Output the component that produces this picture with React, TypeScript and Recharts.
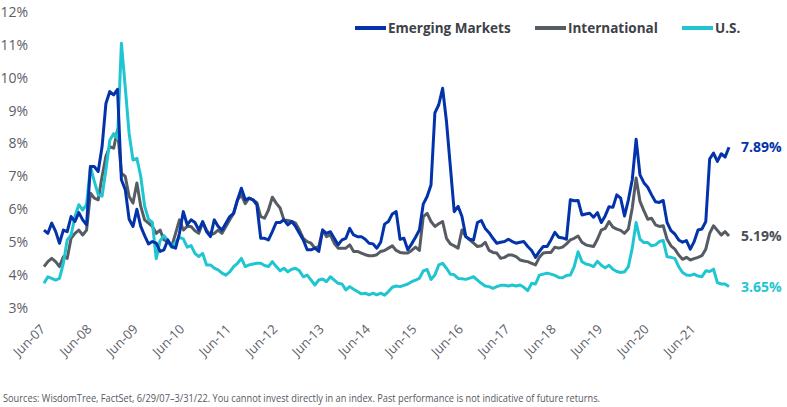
import React from 'react';
import { LineChart, Line, XAxis, YAxis } from 'recharts';

// Monthly dividend yields (%), Jun-2007 through Mar-2022
const emerging = [
  5.37, 5.27, 5.58, 5.33, 4.97, 5.37, 5.32, 5.78, 5.63, 5.9, 5.68, 5.53,
  7.3, 7.3, 7.15, 7.9, 9.22, 9.58, 9.48, 9.65, 6.9, 6.6, 5.7, 5.48,
  6.0, 5.48, 5.2, 4.95, 5.02, 4.97, 4.72, 4.77, 5.07, 4.87, 4.82, 5.27,
  5.93, 5.53, 5.68, 5.6, 5.37, 5.63, 5.32, 5.17, 5.68, 5.48, 5.37, 5.58,
  5.78, 5.88, 6.29, 6.64, 6.29, 6.34, 6.29, 6.14, 5.12, 5.12, 5.07, 5.32,
  5.6, 5.6, 5.68, 5.53, 5.63, 5.48, 5.27, 5.07, 4.77, 4.77, 4.82, 4.72,
  5.37, 5.27, 5.32, 5.12, 4.92, 5.07, 5.12, 5.42, 5.22, 5.17, 5.17, 5.09,
  4.97, 4.95, 4.82, 5.0, 5.55, 5.63, 5.86, 5.93, 5.09, 5.12, 4.77, 4.95,
  5.15, 5.37, 6.16, 6.39, 6.74, 8.93, 9.18, 9.68, 8.67, 7.3, 5.93, 6.09,
  5.78, 5.17, 5.09, 5.07, 5.6, 5.66, 5.42, 5.29, 5.12, 4.97, 5.0, 5.02,
  5.09, 5.02, 4.97, 5.0, 5.02, 4.87, 4.75, 4.54, 4.72, 4.87, 4.87, 5.07,
  5.3, 5.15, 5.13, 5.09, 6.29, 6.26, 6.27, 5.83, 5.86, 5.88, 5.76, 5.9,
  5.6, 5.8, 6.08, 6.06, 6.44, 6.34, 5.8, 6.29, 6.9, 8.13, 7.05, 6.81,
  6.67, 6.44, 6.23, 6.21, 6.27, 5.6, 5.35, 5.25, 5.07, 5.0, 5.05, 4.79,
  5.02, 5.37, 5.4, 5.63, 7.53, 7.71, 7.46, 7.69, 7.59, 7.89,
];

const international = [
  4.26, 4.41, 4.51, 4.41, 4.26, 4.56, 4.51, 5.12, 5.27, 5.37, 5.22, 5.37,
  6.49, 6.34, 6.29, 7.0, 7.61, 7.91, 7.86, 8.42, 7.1, 7.0, 6.39, 6.19,
  6.8, 6.09, 5.68, 5.58, 5.48, 5.27, 5.37, 5.07, 5.02, 4.87, 5.27, 5.68,
  5.37, 5.48, 5.48, 5.35, 5.27, 5.6, 5.37, 5.22, 5.27, 5.37, 5.27, 5.48,
  5.68, 5.88, 6.29, 6.44, 6.17, 6.34, 6.29, 6.2, 5.78, 5.73, 5.98, 6.37,
  6.19, 6.04, 5.68, 5.66, 5.63, 5.58, 5.37, 5.12, 5.02, 4.97, 4.82, 4.87,
  5.37, 5.17, 5.22, 4.97, 4.82, 4.82, 4.82, 4.92, 4.72, 4.72, 4.67, 4.62,
  4.59, 4.59, 4.62, 4.72, 4.75, 4.82, 4.89, 4.75, 4.69, 4.67, 4.67, 4.75,
  4.85, 4.75, 5.78, 5.88, 5.63, 5.48, 5.56, 5.63, 5.12, 4.95, 4.89, 4.82,
  5.37, 5.17, 5.07, 4.97, 4.87, 4.89, 5.0, 4.75, 4.69, 4.67, 4.51, 4.54,
  4.61, 4.61, 4.56, 4.46, 4.43, 4.41, 4.36, 4.31, 4.54, 4.67, 4.69, 4.69,
  4.85, 4.82, 4.85, 4.95, 5.07, 5.12, 5.19, 5.0, 4.92, 4.89, 4.87, 5.09,
  5.37, 5.42, 5.63, 5.46, 5.4, 5.36, 5.27, 5.4, 6.04, 6.95, 6.24, 5.96,
  5.7, 5.73, 5.53, 5.48, 5.5, 5.09, 4.89, 4.79, 4.61, 4.48, 4.54, 4.46,
  4.5, 4.54, 4.59, 4.79, 5.27, 5.5, 5.36, 5.22, 5.32, 5.19,
];

const us = [
  3.75, 3.95, 3.9, 3.85, 3.9, 4.36, 5.07, 5.22, 5.78, 6.14, 5.98, 6.14,
  7.3, 6.85, 6.45, 6.4, 7.2, 8.1, 8.3, 8.15, 11.05, 9.7, 8.3, 7.5,
  7.55, 7.0, 6.1, 5.7, 5.6, 4.5, 5.05, 5.2, 5.05, 4.85, 5.0, 5.15,
  5.1, 4.85, 4.9, 4.66, 4.56, 4.66, 4.31, 4.31, 4.21, 4.16, 4.06, 4.0,
  4.1, 4.26, 4.36, 4.51, 4.26, 4.31, 4.34, 4.36, 4.36, 4.29, 4.26, 4.41,
  4.26, 4.13, 4.21, 4.1, 4.18, 4.21, 4.13, 3.95, 4.0, 3.85, 3.7, 3.85,
  3.88, 3.8, 3.95, 3.85, 3.75, 3.73, 3.55, 3.65, 3.57, 3.5, 3.43, 3.45,
  3.4, 3.45, 3.4, 3.45, 3.39, 3.5, 3.63, 3.67, 3.65, 3.69, 3.73, 3.8,
  3.85, 3.9, 4.13, 4.17, 3.87, 4.0, 4.31, 4.36, 4.21, 4.03, 4.01, 3.9,
  3.89, 3.87, 3.91, 3.95, 3.85, 3.75, 3.67, 3.65, 3.6, 3.65, 3.69, 3.69,
  3.67, 3.7, 3.67, 3.7, 3.63, 3.53, 3.75, 3.73, 4.0, 4.03, 4.06, 4.03,
  3.99, 3.93, 3.92, 3.99, 4.0, 4.26, 4.71, 4.41, 4.34, 4.31, 4.26, 4.42,
  4.3, 4.22, 4.3, 4.18, 4.11, 4.08, 4.1, 4.26, 4.82, 5.6, 5.09, 4.99,
  4.99, 4.89, 4.92, 5.02, 5.05, 4.56, 4.54, 4.51, 4.26, 4.08, 4.0, 3.99,
  4.03, 3.97, 3.95, 4.13, 4.11, 4.18, 3.77, 3.73, 3.73, 3.65,
];

const yearLabels = [
  'Jun-07', 'Jun-08', 'Jun-09', 'Jun-10', 'Jun-11', 'Jun-12', 'Jun-13', 'Jun-14',
  'Jun-15', 'Jun-16', 'Jun-17', 'Jun-18', 'Jun-19', 'Jun-20', 'Jun-21',
];
const yTicks = [3, 4, 5, 6, 7, 8, 9, 10, 11, 12];

const seriesNames = ['Emerging Markets', 'International', 'U.S.'];
const footnote =
  'Sources: WisdomTree, FactSet, 6/29/07\u20133/31/22. You cannot invest directly in an index. Past performance is not indicative of future returns.';

const COLORS = { em: '#0333ab', intl: '#565c63', us: '#1fc6d1' };
const FONT = '"Open Sans", "Noto Sans", sans-serif';
const LAST = emerging.length - 1;

const data = emerging.map((v, i) => ({
  i,
  em: v,
  intl: international[i],
  us: us[i],
}));
const xTicks = yearLabels.map((_, k) => k * 12);

const YTick = (props: any) => {
  const { y, payload } = props;
  return (
    <text x={28} y={y} dy="0.35em" textAnchor="end" fill="#5b6068" fontSize={14} fontFamily={FONT}>
      {`${payload.value}%`}
    </text>
  );
};

const XTick = (props: any) => {
  const { x, payload } = props;
  const ax = x + 2;
  const ay = 330;
  return (
    <text
      x={ax}
      y={ay}
      textAnchor="end"
      transform={`rotate(-45 ${ax} ${ay})`}
      fill="#5b6068"
      fontSize={13}
      fontFamily={FONT}
    >
      {yearLabels[Math.round(payload.value / 12)]}
    </text>
  );
};

const endLabel = (color: string, values: number[]) => (props: any) => {
  if (props.index !== LAST) return null;
  return (
    <text
      x={props.x + 12}
      y={props.y}
      dy="0.35em"
      fill={color}
      fontSize={14}
      fontWeight={700}
      fontFamily={FONT}
    >
      {`${values[LAST].toFixed(2)}%`}
    </text>
  );
};

const legendItems = [
  { name: seriesNames[0], color: COLORS.em, x: 355 },
  { name: seriesNames[1], color: COLORS.intl, x: 535 },
  { name: seriesNames[2], color: COLORS.us, x: 682 },
];

export default function App() {
  return (
    <div
      style={{
        position: 'absolute',
        left: 0,
        top: 0,
        width: 787,
        height: 407,
        background: '#ffffff',
        fontFamily: FONT,
      }}
    >
      <LineChart
        width={787}
        height={407}
        data={data}
        margin={{ top: 12, right: 58, bottom: 0, left: 0 }}
      >
        <XAxis
          type="number"
          dataKey="i"
          domain={[0, LAST]}
          ticks={xTicks}
          tick={<XTick />}
          axisLine={false}
          tickLine={false}
          height={99}
          interval={0}
        />
        <YAxis
          type="number"
          domain={[3, 12]}
          ticks={yTicks}
          tick={<YTick />}
          axisLine={false}
          tickLine={false}
          width={44}
          interval={0}
        />
        <Line
          dataKey="intl"
          stroke={COLORS.intl}
          strokeWidth={3}
          dot={false}
          isAnimationActive={false}
          strokeLinejoin="round"
          label={endLabel('#4a4f56', international)}
        />
        <Line
          dataKey="us"
          stroke={COLORS.us}
          strokeWidth={3}
          dot={false}
          isAnimationActive={false}
          strokeLinejoin="round"
          label={endLabel(COLORS.us, us)}
        />
        <Line
          dataKey="em"
          stroke={COLORS.em}
          strokeWidth={3}
          dot={false}
          isAnimationActive={false}
          strokeLinejoin="round"
          label={endLabel(COLORS.em, emerging)}
        />
      </LineChart>
      <svg
        width={787}
        height={407}
        style={{ position: 'absolute', left: 0, top: 0, pointerEvents: 'none' }}
      >
        {legendItems.map((it) => (
          <g key={it.name}>
            <line x1={it.x} x2={it.x + 31} y1={28} y2={28} stroke={it.color} strokeWidth={4} />
            <text
              x={it.x + 33}
              y={28}
              dy="0.35em"
              fill="#3d4148"
              fontSize={13.5}
              fontWeight={700}
              fontFamily={FONT}
            >
              {it.name}
            </text>
          </g>
        ))}
        <text
          x={3}
          y={402}
          fill="#555a61"
          fontSize={11}
          fontFamily={FONT}
          textLength={597}
          lengthAdjust="spacingAndGlyphs"
        >
          {footnote}
        </text>
      </svg>
    </div>
  );
}
